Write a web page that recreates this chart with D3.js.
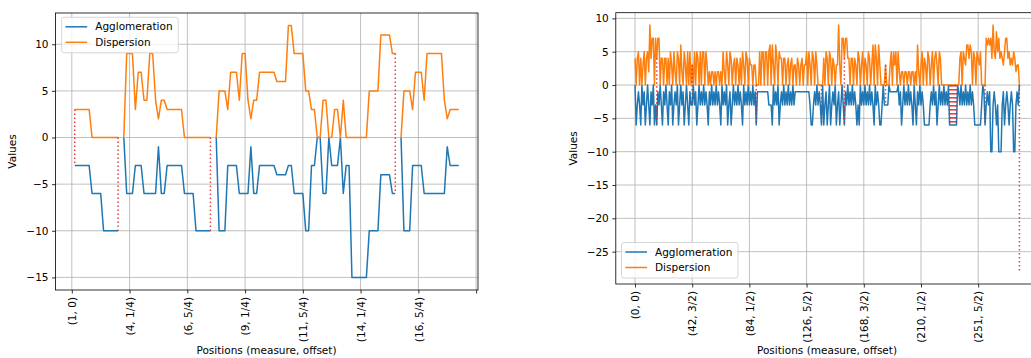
<!DOCTYPE html>
<html>
<head>
<meta charset="utf-8">
<script src="https://cdn.jsdelivr.net/npm/d3@7"></script>
<style>
  body { margin: 0; background: #fff; }
  svg { font-family: "DejaVu Sans", sans-serif; display: block; }
</style>
</head>
<body>
<script>
// ---- Left panel data (positions 1..134, null = break) ----
const aggLeft = [
  -3,-3,-3,-3,-3,-3,-6,-6,-6,-6,
  -10,-10,-10,-10,-10,-10,null,0,-6,-6,
  -6,-3,-3,-3,-6,-6,-6,-6,-6,-1,
  -6,-6,-3,-3,-3,-3,-3,-3,-6,-6,
  -6,-6,-10,-10,-10,-10,-10,-10,null,0,
  -10,-10,-10,-3,-3,-3,-3,-6,-6,-6,
  -6,-1,-6,-6,-3,-3,-3,-3,-3,-3,
  -4,-4,-4,-4,-3,-3,-6,-6,-6,-6,
  -10,-10,-3,-3,0,0,-6,-6,0,-3,
  -3,-3,0,-6,-3,-3,-15,-15,-15,-15,
  -15,-15,-10,-10,-10,-10,-4,-4,-4,-4,
  -6,-6,null,0,-10,-10,-10,-3,-3,-3,
  -3,-6,-6,-6,-6,-6,-6,-6,-6,-1,
  -3,-3,-3,-3
];
const dispLeft = [
  3,3,3,3,3,3,0,0,0,0,
  0,0,0,0,0,0,null,0,9,9,
  9,3,7,7,4,4,9,9,4,2,
  4,4,3,3,3,3,3,3,0,0,
  0,0,0,0,0,0,0,0,null,0,
  5,5,5,3,7,7,7,4,9,9,
  4,2,4,4,7,7,7,7,7,7,
  6,6,6,6,12,12,9,9,9,9,
  5,5,3,3,0,0,4,4,0,0,
  3,3,0,4,0,0,0,0,0,0,
  0,0,5,5,5,5,11,11,11,11,
  9,9,null,0,5,5,5,3,7,7,
  7,4,9,9,9,9,9,9,4,2,
  3,3,3,3
];
const markIdxLeft = [1, 16, 48, 112];
const markTopLeft = [3, 0, 0, 9];
const markBottomLeft = [-3, -10, -10, -6];
const tickLabelsLeft = ["(1, 0)", "(4, 1/4)", "(6, 5/4)", "(9, 1/4)", "(11, 5/4)", "(14, 1/4)", "(16, 5/4)", ""];

// ---- Right panel data (positions 0..336) ----
const aggRight = [
  0,-6,-3,-1,-3,-6,0,-3,-1,-6,
  -3,0,-3,-6,-1,-3,0,-6,-3,-6,
  -1,-3,0,-3,-6,-1,-3,0,-3,-6,
  -1,-3,0,-6,-3,-1,-3,0,-6,-3,
  0,-3,-1,-6,-3,0,-3,-6,-1,-3,
  -3,0,-3,-1,-6,-3,0,-3,-1,-3,
  0,-3,-1,-3,-6,-1,-3,0,-3,-1,
  -3,0,-3,-1,-3,-6,0,-3,-1,-3,
  0,-6,-3,-1,-6,-3,0,-3,-1,-3,
  0,-3,-1,-3,-6,0,-3,-1,-3,0,
  -3,-1,-3,0,-3,-1,-6,-1,-1,-1,
  -1,-1,-1,-1,-1,-1,-1,-3,-3,-3,
  -6,0,-3,-1,-3,0,-6,-3,-1,-3,
  0,-3,-1,-3,0,-3,-1,-3,0,-3,
  -1,-1,-1,-1,-1,-1,-1,-1,-1,-1,
  -1,-1,-1,-3,-6,-6,-3,-1,-3,0,
  -3,-1,-3,-6,0,-6,-3,-1,-6,-3,
  0,-6,-3,-1,-3,0,-6,-3,-1,-6,
  -3,0,-3,-6,-1,-3,0,-3,-1,-3,
  0,-3,-1,-3,-6,-3,-6,0,-3,-1,
  -3,0,-3,-1,-3,0,-3,-1,-3,-6,
  0,-3,-1,-3,-6,-6,-3,0,-3,-3,
  -3,-3,0,-1,-1,-1,-1,-1,-1,-1,
  0,-3,-1,-6,-3,0,-3,-1,-3,0,
  -3,-1,-3,-6,0,-3,-6,-1,-3,0,
  -3,-1,-3,-6,-6,-6,-6,-6,-3,-1,
  -3,0,-3,-1,-6,-3,0,-3,-1,-3,
  0,-3,-1,-3,0,-6,-6,-6,-6,-6,
  -6,-6,0,-1,-3,0,-3,-1,-3,0,
  -3,-1,-3,0,-3,-1,-3,-6,-6,-6,
  -6,-6,-6,-3,0,-1,-6,-3,-1,-3,
  -1,-10,-10,-3,-1,-3,-6,-3,-10,-10,
  -10,-3,-1,-6,-3,-1,-3,-6,-3,-1,
  -3,-10,-10,-3,-1,-3,0
];
const dispRight = [
  4,0,4,5,0,4,0,3,5,0,
  4,5,2,9,4,7,7,0,7,4,
  7,7,0,4,4,0,4,4,0,4,
  0,5,3,0,5,2,0,5,4,0,
  6,2,0,5,3,0,5,0,5,0,
  3,0,5,0,5,4,0,5,0,5,
  5,0,5,3,0,2,0,2,2,0,
  2,0,2,2,0,2,0,5,2,0,
  5,3,0,5,4,0,3,4,0,4,
  3,0,4,0,5,3,0,5,4,0,
  4,3,3,0,3,3,0,0,0,5,
  0,5,5,0,5,5,0,5,6,0,
  6,3,0,6,4,0,5,4,4,0,
  4,4,0,3,4,0,3,4,0,3,
  3,0,4,3,0,3,4,0,3,3,
  5,0,5,3,0,5,4,0,5,3,
  0,0,0,0,0,4,0,5,4,0,
  5,4,0,4,3,0,3,3,9,3,
  0,7,7,4,7,7,4,4,0,4,
  4,0,4,3,0,5,4,0,3,5,
  0,4,3,0,5,4,0,3,6,0,
  6,4,0,6,3,0,0,0,0,3,
  0,0,0,3,5,0,5,3,5,0,
  5,2,0,2,2,0,2,2,0,2,
  2,0,2,2,0,2,0,6,2,0,
  3,5,0,4,3,0,5,4,0,3,
  5,0,4,5,3,0,5,4,0,0,
  0,0,0,0,0,0,0,0,0,0,
  0,0,0,0,4,5,0,5,4,3,
  6,6,4,6,5,0,5,4,0,5,
  4,3,5,0,0,0,0,7,6,7,
  6,7,4,9,5,4,8,5,7,4,
  5,4,3,5,7,7,4,5,3,4,
  3,5,4,2,3,3,0
];
const markIdxRight = [19, 50, 106, 163, 183, 219, 275, 276, 277, 278, 279, 280, 281, 306, 336];
const markTopRight = [4, 3, 0, 0, 4, 3, 0, 0, 0, 0, 0, 0, 0, 0, 0];
const markBottomRight = [-6, -3, -6, -6, -6, -3, -6, -6, -6, -6, -6, -6, -6, -6, -28];
const tickLabelsRight = ["(0, 0)", "(42, 3/2)", "(84, 1/2)", "(126, 5/2)", "(168, 3/2)", "(210, 1/2)", "(251, 5/2)"];

const w = 1031;
const h = 358;
const blue = "#1f77b4";
const orange = "#ff7f0e";
const fontSize = "10.5px";

const svg = d3.select("body")
  .append("svg")
  .attr("width", w)
  .attr("height", h);

function drawPanel(cfg) {
  const x = d3.scaleLinear().domain(cfg.xDomain).range([cfg.left, cfg.right]);
  const y = d3.scaleLinear().domain(cfg.yDomain).range([cfg.bottom, cfg.top]);
  const g = svg.append("g");

  // grid
  g.selectAll(".vgrid").data(cfg.xTicks).enter().append("line")
    .attr("x1", d => x(d)).attr("x2", d => x(d))
    .attr("y1", cfg.top).attr("y2", cfg.bottom)
    .attr("stroke", "#b0b0b0").attr("stroke-width", 0.8);
  g.selectAll(".hgrid").data(cfg.yTicks).enter().append("line")
    .attr("x1", cfg.left).attr("x2", cfg.right)
    .attr("y1", d => y(d)).attr("y2", d => y(d))
    .attr("stroke", "#b0b0b0").attr("stroke-width", 0.8);

  // series
  const line = d3.line()
    .defined(d => d.v !== null)
    .x(d => x(d.i))
    .y(d => y(d.v));
  const toPts = arr => arr.map((v, k) => ({ i: k + cfg.start, v: v }));

  g.append("path").datum(toPts(cfg.agg))
    .attr("d", line).attr("fill", "none")
    .attr("stroke", blue).attr("stroke-width", 1.5).attr("stroke-linejoin", "round");
  g.append("path").datum(toPts(cfg.disp))
    .attr("d", line).attr("fill", "none")
    .attr("stroke", orange).attr("stroke-width", 1.5).attr("stroke-linejoin", "round");

  // red dotted markers
  g.selectAll(".mark").data(cfg.markIdx).enter().append("line")
    .attr("x1", d => x(d)).attr("x2", d => x(d))
    .attr("y1", (d, k) => y(cfg.markTop[k]))
    .attr("y2", (d, k) => y(cfg.markBottom[k]))
    .attr("stroke", "#d62728").attr("stroke-opacity", 0.85)
    .attr("stroke-width", 1.5).attr("stroke-dasharray", "1.5,2.5");

  // axes
  const xAxis = d3.axisBottom(x).tickValues(cfg.xTicks)
    .tickFormat((d, k) => cfg.xLabels[k] || "").tickSize(3.5).tickSizeOuter(0);
  const gx = g.append("g").attr("transform", `translate(0,${cfg.bottom})`).call(xAxis);
  gx.select(".domain").remove();
  gx.selectAll("line").attr("stroke", "#000").attr("stroke-width", 0.8);
  gx.selectAll("text")
    .attr("y", 0).attr("x", -7).attr("dy", "0.35em")
    .attr("transform", "rotate(-90)")
    .style("text-anchor", "end")
    .style("font-size", fontSize).style("font-family", "DejaVu Sans").attr("fill", "#000");

  const yAxis = d3.axisLeft(y).tickValues(cfg.yTicks).tickFormat(d => d < 0 ? "\u2212" + Math.abs(d) : d)
    .tickSize(3.5).tickPadding(3.5).tickSizeOuter(0);
  const gy = g.append("g").attr("transform", `translate(${cfg.left},0)`).call(yAxis);
  gy.select(".domain").remove();
  gy.selectAll("line").attr("stroke", "#000").attr("stroke-width", 0.8);
  gy.selectAll("text").style("font-size", fontSize).style("font-family", "DejaVu Sans").attr("fill", "#000");

  // frame
  g.append("rect")
    .attr("x", cfg.left).attr("y", cfg.top)
    .attr("width", cfg.right - cfg.left).attr("height", cfg.bottom - cfg.top)
    .attr("fill", "none").attr("stroke", "#000").attr("stroke-width", 0.8);

  // labels
  g.append("text")
    .attr("x", cfg.xLabelX).attr("y", 354)
    .attr("text-anchor", "middle").style("font-size", fontSize)
    .text("Positions (measure, offset)");
  g.append("text")
    .attr("transform", `translate(${cfg.yLabelX},${(cfg.top + cfg.bottom) / 2}) rotate(-90)`)
    .attr("text-anchor", "middle").style("font-size", fontSize)
    .text("Values");

  // legend
  const lg = g.append("g").attr("transform", `translate(${cfg.legend[0]},${cfg.legend[1]})`);
  lg.append("rect")
    .attr("width", 116.5).attr("height", 35.5).attr("rx", 2.5)
    .attr("fill", "#fff").attr("fill-opacity", 0.8)
    .attr("stroke", "#cccccc").attr("stroke-width", 0.8);
  [["Agglomeration", blue], ["Dispersion", orange]].forEach((e, k) => {
    const yy = 9.5 + k * 15.5;
    lg.append("line").attr("x1", 3.8).attr("x2", 25.5).attr("y1", yy).attr("y2", yy)
      .attr("stroke", e[1]).attr("stroke-width", 1.5);
    lg.append("text").attr("x", 33.5).attr("y", yy).attr("dy", "0.35em")
      .style("font-size", fontSize).text(e[0]);
  });
}

drawPanel({
  left: 55.5, right: 478, top: 13, bottom: 290,
  xDomain: [-5.65, 140.65], yDomain: [-16.35, 13.35],
  xTicks: d3.range(0, 141, 20), xLabels: tickLabelsLeft,
  yTicks: [-15, -10, -5, 0, 5, 10],
  start: 1, agg: aggLeft, disp: dispLeft,
  markIdx: markIdxLeft, markTop: markTopLeft, markBottom: markBottomLeft,
  xLabelX: 266.5, yLabelX: 16,
  legend: [61.7, 17.3]
});

drawPanel({
  left: 615.8, right: 1038.6, top: 12.7, bottom: 284,
  xDomain: [-16.8, 352.8], yDomain: [-29.85, 10.85],
  xTicks: d3.range(0, 301, 50), xLabels: tickLabelsRight,
  yTicks: [-25, -20, -15, -10, -5, 0, 5, 10],
  start: 0, agg: aggRight, disp: dispRight,
  markIdx: markIdxRight, markTop: markTopRight, markBottom: markBottomRight,
  xLabelX: 827, yLabelX: 577,
  legend: [621.5, 242.5]
});
</script>
</body>
</html>
